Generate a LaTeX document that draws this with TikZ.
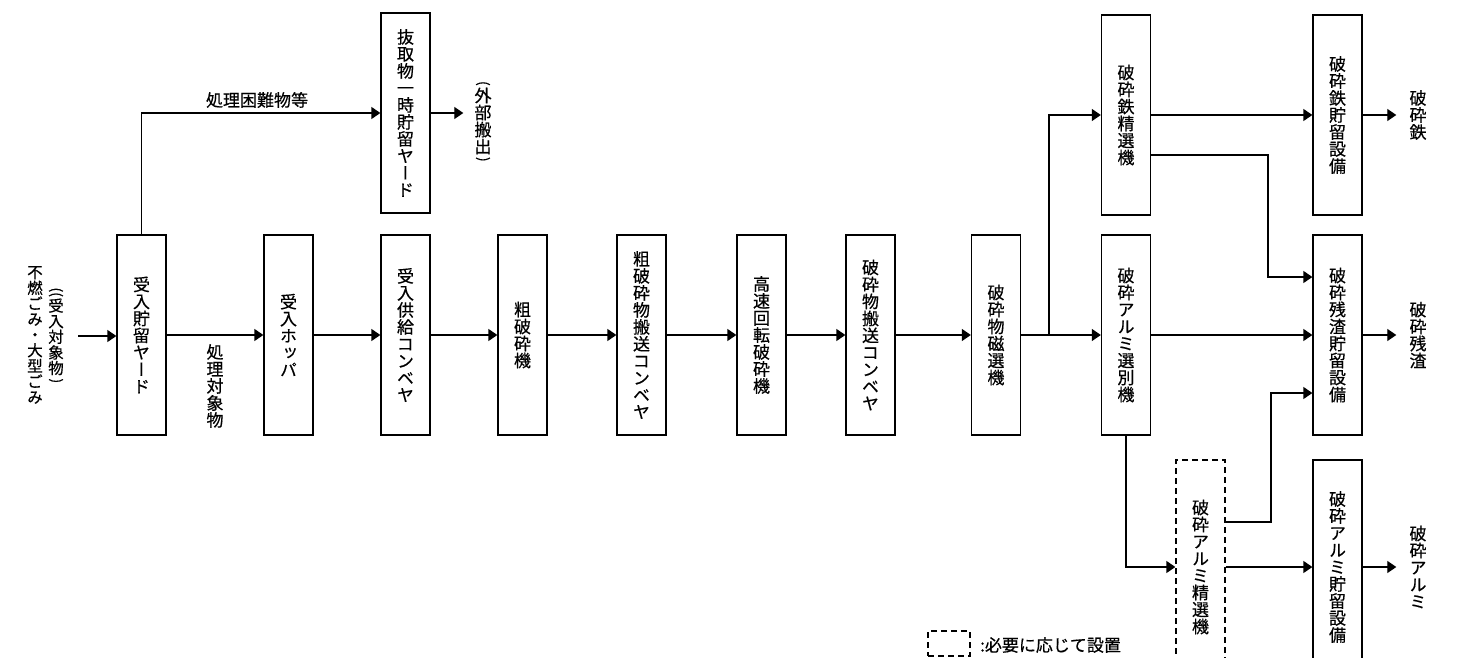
\documentclass[tikz,border=0pt]{standalone}
\usepackage{fontspec}
\usepackage{graphicx}
\usetikzlibrary{arrows.meta}
\newfontfamily\vjp[RawFeature={+vert},FakeBold=0.5]{Noto Sans CJK JP}
\newfontfamily\hjp[FakeBold=0.5]{Noto Sans CJK JP}
\newcommand\vfont{\vjp\fontsize{17pt}{17pt}\selectfont\lineskiplimit=-20pt}
\newcommand\vfontS{\vjp\fontsize{15.5pt}{15.6pt}\selectfont\lineskiplimit=-20pt}
\newcommand\hfont{\hjp\fontsize{17pt}{17pt}\selectfont}
\newcommand\vpo[1]{\smash{\rotatebox{-90}{\hjp\fontsize{14pt}{14pt}\selectfont #1}}}
\makeatletter
\def\vt#1{\vt@first#1\relax}
\def\vt@first#1{#1\vt@rest}
\def\vt@rest#1{\ifx\relax#1\else\\#1\expandafter\vt@rest\fi}
\makeatother
\tikzset{
  box/.style={draw, line width=1.3pt, minimum width=49pt, minimum height=200pt, inner sep=0pt, align=center, font=\vfont},
  tallbox/.style={box, minimum height=214pt},
  vlabel/.style={inner sep=0pt, align=center, font=\vfont},
  arr/.style={line width=1.3pt, -{Triangle[length=9pt,width=12pt]}},
  ln/.style={line width=1.3pt},
  optdash/.style={dash pattern=on 6pt off 4pt}
}
\begin{document}
\begin{tikzpicture}[x=1pt,y=-1pt]
\fill[white] (0,0) rectangle (1459,658);
\useasboundingbox (0,0) rectangle (1459,658);
\clip (0,0) rectangle (1459,658);

% input labels
\node[vlabel, font=\vfontS] (inA) at (35,335) {\vt{不燃ごみ・大型ごみ}};
\node[vlabel, font=\vfontS] (inB) at (56,333) {\vpo{((}\\[8.5pt]受\\入\\対\\象\\物\\[-11pt]\vpo{)}};
\coordinate (inS) at (78,336);

% boxes main row
\node[box] (s0) at (141.5,335) {\vt{受入貯留ヤード}};
\node[box] (hop) at (288.5,335) {\vt{受入ホッパ}};
\node[box] (cv1) at (405.5,335) {\vt{受入供給コンベヤ}};
\node[box] (cr1) at (522.5,335) {\vt{粗破砕機}};
\node[box] (cv2) at (641.5,335) {\vt{粗破砕物搬送コンベヤ}};
\node[box] (cr2) at (761.5,335) {\vt{高速回転破砕機}};
\node[box] (cv3) at (870.5,335) {\vt{破砕物搬送コンベヤ}};
\node[box] (mag) at (996,335) {\vt{破砕物磁選機}};
\node[box] (al) at (1126,335) {\vt{破砕アルミ選別機}};
\node[box] (resS) at (1337.5,335) {\vt{破砕残渣貯留設備}};

% top row
\node[box] (nuki) at (405.5,113) {\vt{抜取物一時貯留ヤード}};
\node[box] (fe) at (1126,115) {\vt{破砕鉄精選機}};
\node[box] (feS) at (1337.5,115) {\vt{破砕鉄貯留設備}};

% bottom row
\node[tallbox, optdash] (alf) at (1200.5,567) {\vt{破砕アルミ精選機}};
\node[tallbox] (alS) at (1337.5,567) {\vt{破砕アルミ貯留設備}};

% outputs
\node[vlabel] (gai) at (483,119) {\vpo{(}\\[4pt]外\\部\\搬\\出\\[-13pt]\vpo{)}};
\node[vlabel] (feO) at (1418,115) {\vt{破砕鉄}};
\node[vlabel] (resO) at (1418,335) {\vt{破砕残渣}};
\node[vlabel] (alO) at (1418,567) {\vt{破砕アルミ}};

% labels
\node[inner sep=0pt, font=\hfont] (lbl1) at (257,100) {処理困難物等};
\node[vlabel] (lbl2) at (215,386) {\vt{処理対象物}};

% legend
\node[draw, line width=1.1pt, optdash, minimum width=42pt, minimum height=25pt, inner sep=0pt] (leg) at (949,643.5) {};
\node[inner sep=0pt, anchor=west, font=\hfont] (legt) at (980,645) {:必要に応じて設置};

% connectors
\draw[arr] (inS) -- (inS -| s0.west);
\draw[arr] (s0.north) |- (nuki.west);
\draw[arr, shorten >=11pt] (nuki.east) -- (nuki.east -| gai.west);
\draw[arr] (s0.east) -- (hop.west);
\draw[arr] (hop.east) -- (cv1.west);
\draw[arr] (cv1.east) -- (cr1.west);
\draw[arr] (cr1.east) -- (cv2.west);
\draw[arr] (cv2.east) -- (cr2.west);
\draw[arr] (cr2.east) -- (cv3.west);
\draw[arr] (cv3.east) -- (mag.west);
\draw[arr] (mag.east) -- (al.west);
\coordinate (j0) at (1049,335);
\draw[arr] (j0) |- (fe.west);
\draw[arr] (fe.east) -- (feS.west);
\coordinate (j1) at (1268,155);
\coordinate (j2) at (1268,277);
\draw[arr] (fe.east |- j1) -- (j1) -- (j2) -- (j2 -| resS.west);
\draw[arr] (al.east) -- (resS.west);
\draw[arr] (al.south) |- (alf.west);
\draw[arr] (alf.east) -- (alS.west);
\coordinate (j3) at (1271,522);
\coordinate (j4) at (1271,393);
\draw[arr] (alf.east |- j3) -- (j3) -- (j4) -- (j4 -| resS.west);
\draw[arr, shorten >=13pt] (feS.east) -- (feS.east -| feO.west);
\draw[arr, shorten >=13pt] (resS.east) -- (resS.east -| resO.west);
\draw[arr, shorten >=13pt] (alS.east) -- (alS.east -| alO.west);
\end{tikzpicture}
\end{document}
